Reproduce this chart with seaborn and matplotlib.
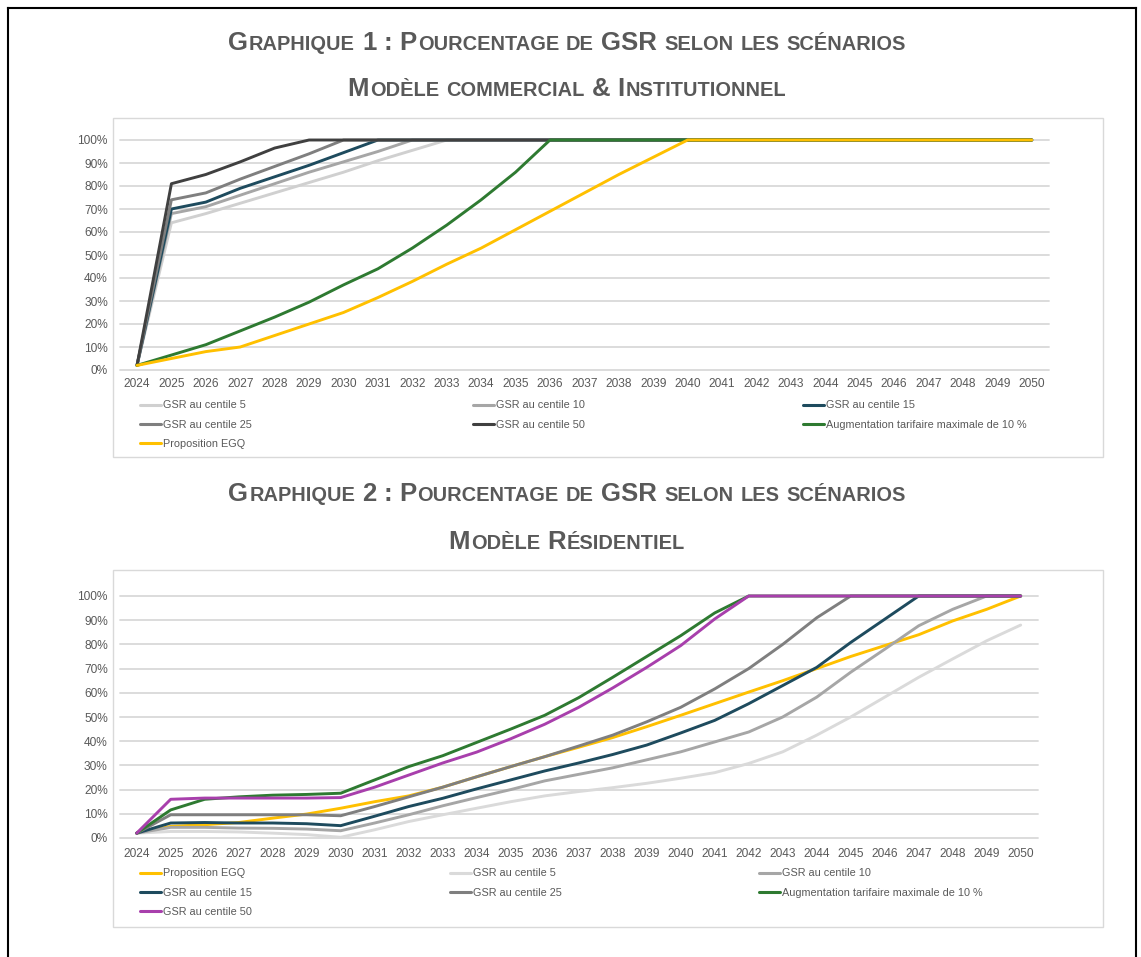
import matplotlib
matplotlib.use("Agg")
import matplotlib.pyplot as plt
from matplotlib.lines import Line2D
from matplotlib.patches import Rectangle
import numpy as np
import pandas as pd
import seaborn as sns

# ---------------------------------------------------------------------------
# Données
# ---------------------------------------------------------------------------
years = list(range(2024, 2051))

# Graphique 1 : modèle commercial & institutionnel (% de GSR)
c1_centile_5 = [2, 64, 68, 72.5, 77, 81.5, 86, 91, 95.5, 100,
                100, 100, 100, 100, 100, 100, 100, 100, 100, 100,
                100, 100, 100, 100, 100, 100, 100]
c1_centile_10 = [2, 68, 71, 76, 81, 86, 90.5, 95, 100, 100,
                 100, 100, 100, 100, 100, 100, 100, 100, 100, 100,
                 100, 100, 100, 100, 100, 100, 100]
c1_centile_15 = [2, 70, 73, 79, 84, 89, 94.5, 100, 100, 100,
                 100, 100, 100, 100, 100, 100, 100, 100, 100, 100,
                 100, 100, 100, 100, 100, 100, 100]
c1_centile_25 = [2, 74, 77, 83, 88.5, 94, 100, 100, 100, 100,
                 100, 100, 100, 100, 100, 100, 100, 100, 100, 100,
                 100, 100, 100, 100, 100, 100, 100]
c1_centile_50 = [2, 81, 85, 90.5, 96.5, 100, 100, 100, 100, 100,
                 100, 100, 100, 100, 100, 100, 100, 100, 100, 100,
                 100, 100, 100, 100, 100, 100, 100]
c1_augmentation = [2, 6.5, 11, 17, 23, 29.5, 37, 44, 53, 63,
                   74, 86, 100, 100, 100, 100, 100, 100, 100, 100,
                   100, 100, 100, 100, 100, 100, 100]
c1_egq = [2, 5, 8, 10, 15, 20, 25, 31.5, 38.5, 46,
          53, 61, 69, 77, 85, 92.5, 100, 100, 100, 100,
          100, 100, 100, 100, 100, 100, 100]

# Graphique 2 : modèle résidentiel (% de GSR)
c2_egq = [2, 4.8, 5.5, 6.4, 8.2, 9.9, 12.3, 15, 17.4, 21,
          25.3, 29.5, 33.6, 37.5, 41.5, 46, 50.7, 55.5, 60.3, 65,
          70, 75, 79.5, 84, 89.7, 94.5, 100]
c2_centile_5 = [2, 2.7, 2.7, 2.5, 2, 1.4, 0.3, 3.4, 6.8, 9.6,
                12.3, 15, 17.4, 19.2, 20.8, 22.6, 24.7, 27, 30.8, 35.6,
                42.5, 50, 58.2, 66.4, 74, 81.5, 88]
c2_centile_10 = [2, 4.4, 4.4, 4.1, 4.0, 3.7, 3.0, 6.2, 9.6, 13.3,
                 16.7, 20, 23.6, 26.3, 29, 32.3, 35.6, 39.7, 43.8, 50,
                 58.2, 68.5, 78, 87.7, 94.5, 100, 100]
c2_centile_15 = [2, 6.2, 6.4, 6.2, 6.2, 5.9, 5.1, 9, 13, 16.4,
                 20.3, 24, 27.7, 31, 34.5, 38.4, 43.4, 48.6, 55.5, 63,
                 70.5, 80.8, 90.4, 100, 100, 100, 100]
c2_centile_25 = [2, 9.6, 9.6, 9.6, 9.6, 9.6, 9.2, 13, 17, 21,
                 25.3, 29.5, 33.6, 38, 42.5, 48, 54, 61.6, 70, 80,
                 91, 100, 100, 100, 100, 100, 100]
c2_augmentation = [2, 11.6, 16, 17, 17.7, 18, 18.5, 24, 29.5, 34,
                   39.5, 45, 50.7, 58, 66.4, 75, 83.6, 93, 100, 100,
                   100, 100, 100, 100, 100, 100, 100]
c2_centile_50 = [2, 16, 16.5, 16.5, 16.5, 16.5, 16.7, 21, 26, 31,
                 35.5, 41, 47, 54, 62, 70.5, 79.5, 90.5, 100, 100,
                 100, 100, 100, 100, 100, 100, 100]

LBL_P5 = "GSR au centile 5"
LBL_P10 = "GSR au centile 10"
LBL_P15 = "GSR au centile 15"
LBL_P25 = "GSR au centile 25"
LBL_P50 = "GSR au centile 50"
LBL_AUG = "Augmentation tarifaire maximale de 10 %"
LBL_EGQ = "Proposition EGQ"

series_1 = {
    LBL_P5: c1_centile_5,
    LBL_P10: c1_centile_10,
    LBL_P15: c1_centile_15,
    LBL_P25: c1_centile_25,
    LBL_P50: c1_centile_50,
    LBL_AUG: c1_augmentation,
    LBL_EGQ: c1_egq,
}
series_2 = {
    LBL_EGQ: c2_egq,
    LBL_P5: c2_centile_5,
    LBL_P10: c2_centile_10,
    LBL_P15: c2_centile_15,
    LBL_P25: c2_centile_25,
    LBL_AUG: c2_augmentation,
    LBL_P50: c2_centile_50,
}

title_1 = ["Graphique 1 : Pourcentage de GSR selon les scénarios",
           "Modèle commercial & Institutionnel"]
title_2 = ["Graphique 2 : Pourcentage de GSR selon les scénarios",
           "Modèle Résidentiel"]

colors_1 = {
    LBL_P5: "#d0d0d0",
    LBL_P10: "#a6a6a6",
    LBL_P15: "#1e4b5e",
    LBL_P25: "#7f7f7f",
    LBL_P50: "#404040",
    LBL_AUG: "#2e7a31",
    LBL_EGQ: "#ffc000",
}
colors_2 = dict(colors_1)
colors_2[LBL_P5] = "#dadada"
colors_2[LBL_P50] = "#a83fac"

TEXT = "#595959"
GRID = "#d9d9d9"

# ---------------------------------------------------------------------------
# Figure
# ---------------------------------------------------------------------------
W, H, DPI = 1141, 957, 100
sns.set_theme(style="white")
plt.rcParams["font.family"] = ["Liberation Sans", "DejaVu Sans"]

fig = plt.figure(figsize=(W / DPI, H / DPI), dpi=DPI)
fig.patch.set_facecolor("white")


def fx(x):
    return x / W


def fy(y):
    return 1 - y / H


def px_axes(left, top, right, bottom):
    return fig.add_axes([fx(left), fy(bottom), (right - left) / W, (bottom - top) / H])


def long_form(series):
    frames = [pd.DataFrame({"Année": years,
                            "Part": np.asarray(v, dtype=float) / 100.0,
                            "Scénario": k})
              for k, v in series.items()]
    return pd.concat(frames, ignore_index=True)


def draw_chart(ax, series, colors, xpad):
    df = long_form(series)
    order = list(series.keys())
    sns.lineplot(data=df, x="Année", y="Part", hue="Scénario",
                 hue_order=order, palette=colors, linewidth=2.1,
                 legend=False, ax=ax, clip_on=False,
                 solid_joinstyle="round", solid_capstyle="round")
    ax.set_xlim(years[0] - 0.5, years[-1] + 0.5)
    ax.set_ylim(0, 1)
    ticks = np.round(np.arange(0, 1.0001, 0.1), 2)
    ax.set_yticks(ticks)
    ax.set_yticklabels([f"{int(round(t * 100))}%" for t in ticks])
    ax.set_xticks(years)
    ax.set_xticklabels([str(y) for y in years])
    ax.set_xlabel("")
    ax.set_ylabel("")
    ax.set_facecolor("none")
    ax.grid(axis="y", color=GRID, linewidth=1.3)
    ax.grid(axis="x", visible=False)
    for gl in ax.get_ygridlines():
        gl.set_clip_on(False)
    ax.set_axisbelow(True)
    for s in ax.spines.values():
        s.set_visible(False)
    ax.tick_params(axis="both", length=0, labelsize=8.6, labelcolor=TEXT)
    ax.tick_params(axis="x", pad=xpad)
    ax.tick_params(axis="y", pad=8.6)


# Cadres gris clair autour de chaque graphique
for (l, t, r, b) in [(113, 118, 1103, 457), (113, 570, 1103, 927)]:
    fig.add_artist(Rectangle((fx(l), fy(b)), (r - l) / W, (b - t) / H,
                             transform=fig.transFigure, facecolor="white",
                             edgecolor="#d9d9d9", linewidth=1.0, zorder=0))

ax1 = px_axes(119.8, 140, 1049, 370)
ax2 = px_axes(119.7, 596, 1037.7, 838)
draw_chart(ax1, series_1, colors_1, xpad=6.0)
draw_chart(ax2, series_2, colors_2, xpad=7.5)


# Légendes, une colonne à la fois
def column_legend(labels, colors, x_px, row1_center_px):
    handles = [Line2D([], [], color=colors[lab], linewidth=2.2) for lab in labels]
    fig.legend(handles, labels, loc="upper left",
               bbox_to_anchor=(fx(x_px), fy(row1_center_px - 4.5)),
               bbox_transform=fig.transFigure, frameon=False,
               fontsize=7.8, handlelength=1.95, handletextpad=0.2,
               borderpad=0, borderaxespad=0, labelspacing=0.84,
               labelcolor=TEXT)


column_legend([LBL_P5, LBL_P25, LBL_EGQ], colors_1, 140, 405)
column_legend([LBL_P10, LBL_P50], colors_1, 473, 405)
column_legend([LBL_P15, LBL_AUG], colors_1, 803, 405)

column_legend([LBL_EGQ, LBL_P15, LBL_P50], colors_2, 140, 873)
column_legend([LBL_P5, LBL_P25], colors_2, 450, 873)
column_legend([LBL_P10, LBL_AUG], colors_2, 759, 873)


# Titres en petites capitales
def small_caps(text, center_x, baseline_y, big=18.5, small=14.4):
    renderer = fig.canvas.get_renderer()
    runs = []
    for ch in text:
        kind = "space" if ch == " " else ("small" if ch.islower() else "big")
        glyph = ch.upper() if kind == "small" else ch
        if runs and runs[-1][0] == kind:
            runs[-1][1] += glyph
        else:
            runs.append([kind, glyph])
    placed = []
    x = 0.0
    prev_letter = False
    for kind, s in runs:
        if kind == "space":
            x += len(s) * 0.278 * big * DPI / 72
            prev_letter = False
            continue
        size = big if kind == "big" else small
        if prev_letter:
            x += 0.05 * size * DPI / 72
        t = fig.text(0, 0, s, fontsize=size, fontweight="bold")
        w = t.get_window_extent(renderer).width
        t.remove()
        placed.append((x, s, size))
        x += w
        prev_letter = True
    start = center_x - x / 2
    for off, s, size in placed:
        fig.text(fx(start + off), fy(baseline_y), s, fontsize=size,
                 fontweight="bold", color=TEXT, ha="left", va="baseline")


small_caps(title_1[0], 567, 50)
small_caps(title_1[1], 567, 96)
small_caps(title_2[0], 567, 501)
small_caps(title_2[1], 567, 549)

# Bordure de page
for (x0, y0, x1, y1) in [(8, 8, 1136, 8), (8, 8, 8, 957), (1136, 8, 1136, 957)]:
    fig.add_artist(Line2D([fx(x0), fx(x1)], [fy(y0), fy(y1)],
                          transform=fig.transFigure, color="black",
                          linewidth=1.5, solid_capstyle="projecting"))

fig.savefig("out.png", dpi=DPI, facecolor="white")
